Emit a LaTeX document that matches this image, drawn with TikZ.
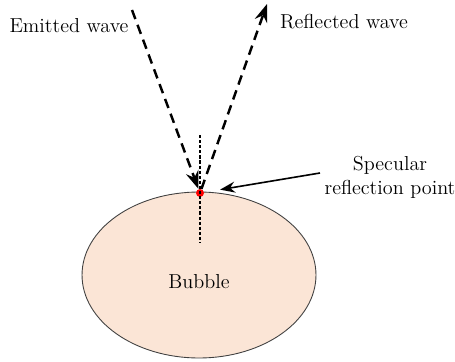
\documentclass[tikz,border=0pt]{standalone}
\usepackage{xcolor}
\usepackage{tikz}
\usetikzlibrary{arrows.meta,positioning,shapes.geometric}
\definecolor{bubblefill}{HTML}{FBE5D6}

\begin{document}
\begin{tikzpicture}[
    x=0.02cm,
    y=-0.02cm,
    font=\fontsize{11.5}{13.5}\selectfont,
    bubble/.style={
        ellipse,
        draw=black!75,
        line width=0.5pt,
        fill=bubblefill,
        minimum width=4.68cm,
        minimum height=3.32cm,
        inner sep=0pt
    },
    dot/.style={
        circle,
        fill=red,
        minimum size=0.16cm,
        inner sep=0pt
    },
    wave/.style={
        line width=1.4pt,
        dash pattern=on 5.5pt off 3.5pt,
        -{Stealth[length=3.6mm,width=2.6mm,inset=1.2mm]}
    },
    normal/.style={
        line width=0.6pt,
        dash pattern=on 1.8pt off 1.1pt
    },
    arr/.style={
        line width=0.9pt,
        -{Stealth[length=3mm,width=2.2mm,inset=1mm]}
    },
    lbl/.style={align=center, inner sep=0pt}
]
\useasboundingbox (0,0) rectangle (455,361);

% bubble and reflection point
\node[bubble] (bubble) at (199,275) {};
\node[lbl] (bubbletxt) at (199,282) {Bubble};
\node[dot] (spec) at (200,193) {};

% normal at the reflection point
\coordinate (normtop) at (200,135);
\coordinate (normbot) at (200,243);
\draw[normal] (normtop) -- (normbot);

% waves
\coordinate (emit) at (132,10);
\coordinate (refl) at (267,4);
\draw[wave] (emit) -- (spec);
\draw[wave] (spec) -- (refl);

% labels
\node[lbl] (emittxt) at (69,26) {Emitted wave};
\node[lbl] (refltxt) at (344,22) {Reflected wave};
\node[lbl] (spectxt) at (390,177) {Specular\\reflection point};

\coordinate (ptr) at (320,173);
\draw[arr, shorten >=0.32cm] (ptr) -- (spec);

\end{tikzpicture}
\end{document}
